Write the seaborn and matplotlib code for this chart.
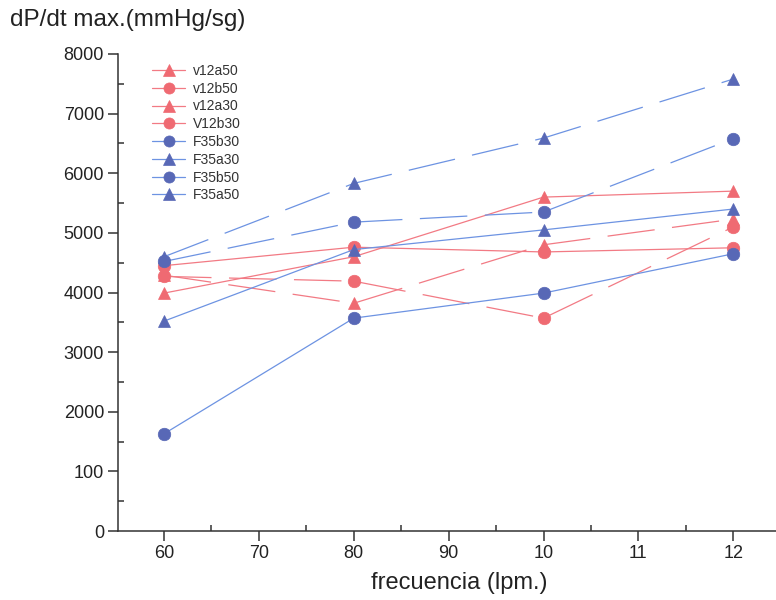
import numpy as np
import pandas as pd
import matplotlib
matplotlib.use("Agg")
import matplotlib.pyplot as plt
import seaborn as sns
from matplotlib.ticker import FixedLocator, MultipleLocator

# ---------------------------
# Data
# ---------------------------
frecuencia = [60, 80, 100, 120]

series_names = ["v12a50", "v12b50", "v12a30", "V12b30",
                "F35b30", "F35a30", "F35b50", "F35a50"]

v12a50 = [3990, 4600, 5600, 5700]
v12b50 = [4450, 4760, 4680, 4750]
v12a30 = [4290, 3820, 4800, 5230]
V12b30 = [4270, 4190, 3570, 5100]
F35b30 = [1630, 3570, 3990, 4650]
F35a30 = [3520, 4720, 5050, 5400]
F35b50 = [4520, 5180, 5350, 6580]
F35a50 = [4600, 5830, 6590, 7580]

values = [v12a50, v12b50, v12a30, V12b30, F35b30, F35a30, F35b50, F35a50]

ytick_values = [0, 1000, 2000, 3000, 4000, 5000, 6000, 7000, 8000]
ytick_labels = ["0", "100", "2000", "3000", "4000", "5000", "6000", "7000", "8000"]
xtick_values = [60, 70, 80, 90, 100, 110, 120]
xtick_labels = ["60", "70", "80", "90", "10", "11", "12"]

# ---------------------------
# Styles
# ---------------------------
RED_LINE, RED_MARK = "#f27a84", "#ef6a72"
BLUE_LINE, BLUE_MARK = "#6d93e2", "#5868b6"
DASH = (0, (38, 14))
TEXT_C = "#222222"

styles = {
    "v12a50": (RED_LINE, RED_MARK, "^", "-"),
    "v12b50": (RED_LINE, RED_MARK, "o", "-"),
    "v12a30": (RED_LINE, RED_MARK, "^", DASH),
    "V12b30": (RED_LINE, RED_MARK, "o", DASH),
    "F35b30": (BLUE_LINE, BLUE_MARK, "o", "-"),
    "F35a30": (BLUE_LINE, BLUE_MARK, "^", "-"),
    "F35b50": (BLUE_LINE, BLUE_MARK, "o", DASH),
    "F35a50": (BLUE_LINE, BLUE_MARK, "^", DASH),
}

df = pd.DataFrame({
    "frecuencia": np.tile(frecuencia, len(series_names)),
    "dpdt": np.concatenate(values),
    "serie": np.repeat(series_names, len(frecuencia)),
})

# ---------------------------
# Plot
# ---------------------------
sns.set_style("ticks")
plt.rcParams["font.family"] = ["Liberation Sans", "DejaVu Sans"]

fig = plt.figure(figsize=(7.76, 6.0), dpi=100)
ax = fig.add_axes([118 / 776, 69 / 600, 658 / 776, 477 / 600])

for name in series_names:
    line_c, mark_c, marker, ls = styles[name]
    sub = df[df["serie"] == name]
    sns.lineplot(data=sub, x="frecuencia", y="dpdt", ax=ax,
                 color=line_c, linestyle=ls, linewidth=0.9,
                 marker=marker, markersize=9, markerfacecolor=mark_c,
                 markeredgecolor=mark_c, markeredgewidth=0.5,
                 label=name)

ax.set_xlim(55.15, 124.5)
ax.set_ylim(0, 8000)

ax.yaxis.set_major_locator(FixedLocator(ytick_values))
ax.set_yticklabels(ytick_labels)
ax.yaxis.set_minor_locator(MultipleLocator(500))
ax.xaxis.set_major_locator(FixedLocator(xtick_values))
ax.set_xticklabels(xtick_labels)
ax.xaxis.set_minor_locator(MultipleLocator(5))

ax.tick_params(axis="both", which="major", direction="out", length=7,
               width=1.1, color="#333333", labelsize=13, labelcolor=TEXT_C, pad=3)
ax.tick_params(axis="both", which="minor", direction="in", length=4,
               width=1.1, color="#333333")

for side in ["top", "right"]:
    ax.spines[side].set_visible(False)
for side in ["left", "bottom"]:
    ax.spines[side].set_linewidth(1.1)
    ax.spines[side].set_color("#333333")

ax.set_ylabel("")
ax.set_xlabel("frecuencia (lpm.)", fontsize=17, color=TEXT_C)
ax.xaxis.set_label_coords((459 - 118) / 658, -0.085)

fig.text(10 / 776, 1 - 20 / 600, "dP/dt max.(mmHg/sg)", fontsize=17.5,
         color=TEXT_C, ha="left", va="center")

leg = ax.legend(loc="upper left", bbox_to_anchor=((152 - 118) / 658, (531 - 64) / 477),
                frameon=False, fontsize=10, labelspacing=0.27, handlelength=2.4,
                handletextpad=0.55, borderpad=0, borderaxespad=0)
for h in leg.legend_handles:
    h.set_linestyle("-")
    h.set_markersize(8)
for t in leg.get_texts():
    t.set_color("#333333")

fig.savefig("out.png", dpi=100)
